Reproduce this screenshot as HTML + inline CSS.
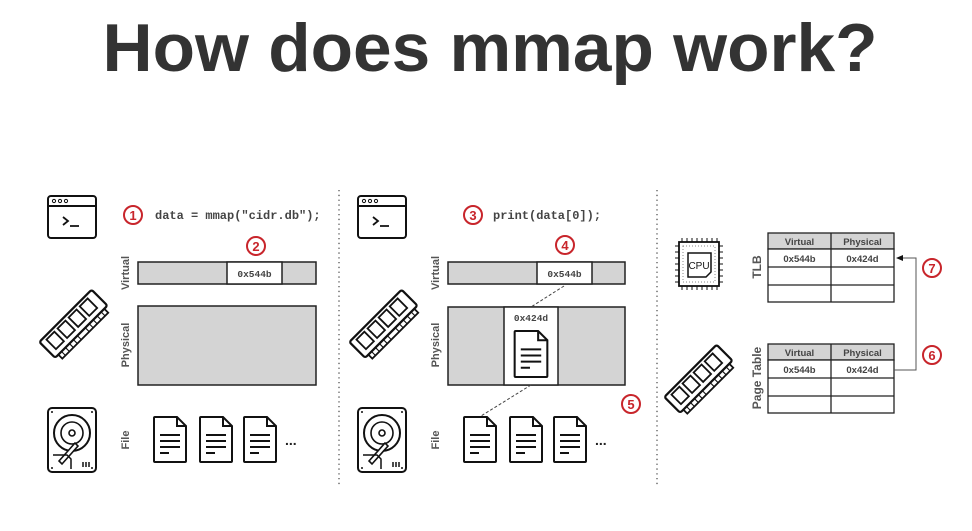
<!DOCTYPE html>
<html><head><meta charset="utf-8"><style>
html,body{margin:0;padding:0;background:#fff;width:972px;height:531px;overflow:hidden}
svg text{font-family:"Liberation Sans",sans-serif}
.m{font-family:"Liberation Mono",monospace}
</style></head><body>
<svg width="972" height="531" viewBox="0 0 972 531" xmlns="http://www.w3.org/2000/svg">
<defs>
<symbol id="doc" viewBox="0 0 34 47" overflow="visible">
<path d="M2,1 H24 L33,10 V45 Q33,46 32,46 H2 Q1,46 1,45 V2 Q1,1 2,1 Z" fill="#fff" stroke="#111" stroke-width="2"/>
<path d="M24,1 V10 H33" fill="none" stroke="#111" stroke-width="2"/>
<path d="M7,19 H27 M7,25 H27 M7,31 H27 M7,37 H16" stroke="#111" stroke-width="2"/>
</symbol>
<symbol id="term" viewBox="0 0 50 44" overflow="visible">
<rect x="1" y="1" width="48" height="42" rx="3" fill="#fff" stroke="#111" stroke-width="2"/>
<path d="M1,11 H49" stroke="#111" stroke-width="2"/>
<circle cx="7" cy="6" r="1.6" fill="none" stroke="#111"/><circle cx="13" cy="6" r="1.6" fill="none" stroke="#111"/><circle cx="19" cy="6" r="1.6" fill="none" stroke="#111"/>
<path d="M16,22 L21,26 L16,30 M23,31 H32" fill="none" stroke="#111" stroke-width="1.8"/>
</symbol>
<symbol id="ram" viewBox="0 0 70 60" overflow="visible">
<g transform="rotate(-45 35 30) scale(1.12) translate(-4 -3)">
<rect x="2" y="18" width="66" height="20" rx="2" fill="#fff" stroke="#111" stroke-width="2"/>
<rect x="8" y="21" width="10" height="12" fill="none" stroke="#111" stroke-width="1.6"/>
<rect x="22" y="21" width="10" height="12" fill="none" stroke="#111" stroke-width="1.6"/>
<rect x="36" y="21" width="10" height="12" fill="none" stroke="#111" stroke-width="1.6"/>
<rect x="50" y="21" width="10" height="12" fill="none" stroke="#111" stroke-width="1.6"/>
<path d="M6,38 V43 H64 V38" fill="none" stroke="#111" stroke-width="1.6"/>
<path d="M10,38 V43 M15,38 V43 M20,38 V43 M25,38 V43 M30,38 V43 M40,38 V43 M45,38 V43 M50,38 V43 M55,38 V43 M60,38 V43" stroke="#111"/>
</g>
</symbol>
<symbol id="hdd" viewBox="0 0 50 66" overflow="visible">
<rect x="1" y="1" width="48" height="64" rx="4" fill="#fff" stroke="#111" stroke-width="2"/>
<circle cx="25" cy="26" r="18" fill="none" stroke="#111" stroke-width="2"/>
<circle cx="25" cy="26" r="11" fill="none" stroke="#111" stroke-width="1.6"/>
<circle cx="25" cy="26" r="3" fill="none" stroke="#111" stroke-width="1.6"/>
<path d="M12,54 L28,36 L31,39 L15,57 Z" fill="#fff" stroke="#111" stroke-width="1.6"/>
<path d="M6,48 H20 L24,52 V62 M36,55 V60 M39,55 V60 M42,55 V60" fill="none" stroke="#111" stroke-width="1.5"/>
<circle cx="5" cy="5" r="1" fill="#111"/><circle cx="45" cy="5" r="1" fill="#111"/><circle cx="5" cy="61" r="1" fill="#111"/><circle cx="45" cy="61" r="1" fill="#111"/>
</symbol>
</defs>

<text x="490" y="71" text-anchor="middle" font-size="68" font-weight="bold" fill="#333" textLength="775" lengthAdjust="spacingAndGlyphs">How does mmap work?</text>

<line x1="339" y1="190" x2="339" y2="485" stroke="#555" stroke-width="1.3" stroke-dasharray="1.3 3.5"/>
<line x1="657" y1="190" x2="657" y2="485" stroke="#555" stroke-width="1.3" stroke-dasharray="1.3 3.5"/>

<!-- Panel 1 -->
<use href="#term" x="47" y="195" width="50" height="44"/>
<circle cx="133" cy="215" r="9" fill="#fff" stroke="#c8252b" stroke-width="2"/>
<text x="133" y="220" text-anchor="middle" font-size="13" font-weight="bold" fill="#c8252b">1</text>
<text x="155" y="219" class="m" font-size="12" font-weight="bold" fill="#444">data = mmap("cidr.db");</text>
<circle cx="256" cy="246" r="9" fill="#fff" stroke="#c8252b" stroke-width="2"/>
<text x="256" y="251" text-anchor="middle" font-size="13" font-weight="bold" fill="#c8252b">2</text>
<text transform="translate(129 273) rotate(-90)" text-anchor="middle" font-size="11" font-weight="bold" fill="#555">Virtual</text>
<rect x="138" y="262" width="178" height="22" fill="#d4d4d4" stroke="#222" stroke-width="1.5"/>
<rect x="227" y="262" width="55" height="22" fill="#fff" stroke="#222" stroke-width="1.5"/>
<text x="254.5" y="277" text-anchor="middle" class="m" font-size="9.5" font-weight="bold" fill="#444">0x544b</text>
<use href="#ram" x="40" y="295" width="70" height="60"/>
<text transform="translate(129 345) rotate(-90)" text-anchor="middle" font-size="11" font-weight="bold" fill="#555">Physical</text>
<rect x="138" y="306" width="178" height="79" fill="#d4d4d4" stroke="#222" stroke-width="1.5"/>
<use href="#hdd" x="47" y="407" width="50" height="66"/>
<text transform="translate(129 440) rotate(-90)" text-anchor="middle" font-size="11" font-weight="bold" fill="#555">File</text>
<use href="#doc" x="153" y="416" width="34" height="47"/>
<use href="#doc" x="199" y="416" width="34" height="47"/>
<use href="#doc" x="243" y="416" width="34" height="47"/>
<text x="285" y="445" font-size="14" font-weight="bold" fill="#222">...</text>

<!-- Panel 2 -->
<use href="#term" x="357" y="195" width="50" height="44"/>
<circle cx="473" cy="215" r="9" fill="#fff" stroke="#c8252b" stroke-width="2"/>
<text x="473" y="220" text-anchor="middle" font-size="13" font-weight="bold" fill="#c8252b">3</text>
<text x="493" y="219" class="m" font-size="12" font-weight="bold" fill="#444">print(data[0]);</text>
<circle cx="565" cy="245" r="9" fill="#fff" stroke="#c8252b" stroke-width="2"/>
<text x="565" y="250" text-anchor="middle" font-size="13" font-weight="bold" fill="#c8252b">4</text>
<text transform="translate(439 273) rotate(-90)" text-anchor="middle" font-size="11" font-weight="bold" fill="#555">Virtual</text>
<rect x="448" y="262" width="177" height="22" fill="#d4d4d4" stroke="#222" stroke-width="1.5"/>
<rect x="537" y="262" width="55" height="22" fill="#fff" stroke="#222" stroke-width="1.5"/>
<text x="564.5" y="277" text-anchor="middle" class="m" font-size="9.5" font-weight="bold" fill="#444">0x544b</text>
<use href="#ram" x="350" y="295" width="70" height="60"/>
<text transform="translate(439 345) rotate(-90)" text-anchor="middle" font-size="11" font-weight="bold" fill="#555">Physical</text>
<rect x="448" y="307" width="177" height="78" fill="#d4d4d4" stroke="#222" stroke-width="1.5"/>
<rect x="504" y="307" width="54" height="78" fill="#fff" stroke="#222" stroke-width="1.5"/>
<text x="531" y="321" text-anchor="middle" class="m" font-size="9.5" font-weight="bold" fill="#444">0x424d</text>
<use href="#doc" x="513" y="330" width="36" height="48"/>
<line x1="564" y1="286" x2="531" y2="307" stroke="#444" stroke-dasharray="3 2"/>
<line x1="531" y1="385" x2="481" y2="416" stroke="#444" stroke-dasharray="3 2"/>
<circle cx="631" cy="404" r="9" fill="#fff" stroke="#c8252b" stroke-width="2"/>
<text x="631" y="409" text-anchor="middle" font-size="13" font-weight="bold" fill="#c8252b">5</text>
<use href="#hdd" x="357" y="407" width="50" height="66"/>
<text transform="translate(439 440) rotate(-90)" text-anchor="middle" font-size="11" font-weight="bold" fill="#555">File</text>
<use href="#doc" x="463" y="416" width="34" height="47"/>
<use href="#doc" x="509" y="416" width="34" height="47"/>
<use href="#doc" x="553" y="416" width="34" height="47"/>
<text x="595" y="445" font-size="14" font-weight="bold" fill="#222">...</text>

<!-- Panel 3 -->
<g>
<rect x="679" y="242" width="40" height="44" fill="#fff" stroke="#111" stroke-width="1.8"/>
<rect x="683" y="246" width="32" height="36" fill="none" stroke="#888" stroke-dasharray="1 2"/>
<path d="M682,238 V242 M687,238 V242 M692,238 V242 M697,238 V242 M702,238 V242 M707,238 V242 M712,238 V242 M717,238 V242 M682,286 V290 M687,286 V290 M692,286 V290 M697,286 V290 M702,286 V290 M707,286 V290 M712,286 V290 M717,286 V290 M675,246 H679 M675,252 H679 M675,258 H679 M675,264 H679 M675,270 H679 M675,276 H679 M675,282 H679 M719,246 H723 M719,252 H723 M719,258 H723 M719,264 H723 M719,270 H723 M719,276 H723 M719,282 H723" stroke="#111"/>
<path d="M688,253 H711 V272 L706,277 H688 Z" fill="#fff" stroke="#111" stroke-width="1.5"/>
<text x="699" y="269" text-anchor="middle" font-size="10" fill="#111">CPU</text>
</g>
<use href="#ram" x="665" y="350" width="70" height="60"/>
<text transform="translate(761 267) rotate(-90)" text-anchor="middle" font-size="12" font-weight="bold" fill="#555">TLB</text>
<text transform="translate(761 378) rotate(-90)" text-anchor="middle" font-size="12" font-weight="bold" fill="#555">Page Table</text>

<g stroke="#222" stroke-width="1.3">
<rect x="768" y="233" width="126" height="16" fill="#d4d4d4"/>
<rect x="768" y="249" width="126" height="53" fill="#fff"/>
<line x1="768" y1="267" x2="894" y2="267"/><line x1="768" y1="285" x2="894" y2="285"/>
<line x1="831" y1="233" x2="831" y2="302"/>
<rect x="768" y="344" width="126" height="16" fill="#d4d4d4"/>
<rect x="768" y="360" width="126" height="53" fill="#fff"/>
<line x1="768" y1="378" x2="894" y2="378"/><line x1="768" y1="396" x2="894" y2="396"/>
<line x1="831" y1="344" x2="831" y2="413"/>
</g>
<g font-size="9.5" font-weight="bold" fill="#444" text-anchor="middle">
<text x="799.5" y="245">Virtual</text><text x="862.5" y="245">Physical</text>
<text x="799.5" y="262">0x544b</text><text x="862.5" y="262">0x424d</text>
<text x="799.5" y="356">Virtual</text><text x="862.5" y="356">Physical</text>
<text x="799.5" y="373">0x544b</text><text x="862.5" y="373">0x424d</text>
</g>
<path d="M894,370 H916 V258 H902" fill="none" stroke="#555" stroke-width="1"/>
<path d="M896,258 L903,255 L903,261 Z" fill="#111"/>
<circle cx="932" cy="268" r="9" fill="#fff" stroke="#c8252b" stroke-width="2"/>
<text x="932" y="273" text-anchor="middle" font-size="13" font-weight="bold" fill="#c8252b">7</text>
<circle cx="932" cy="355" r="9" fill="#fff" stroke="#c8252b" stroke-width="2"/>
<text x="932" y="360" text-anchor="middle" font-size="13" font-weight="bold" fill="#c8252b">6</text>
</svg>
</body></html>
